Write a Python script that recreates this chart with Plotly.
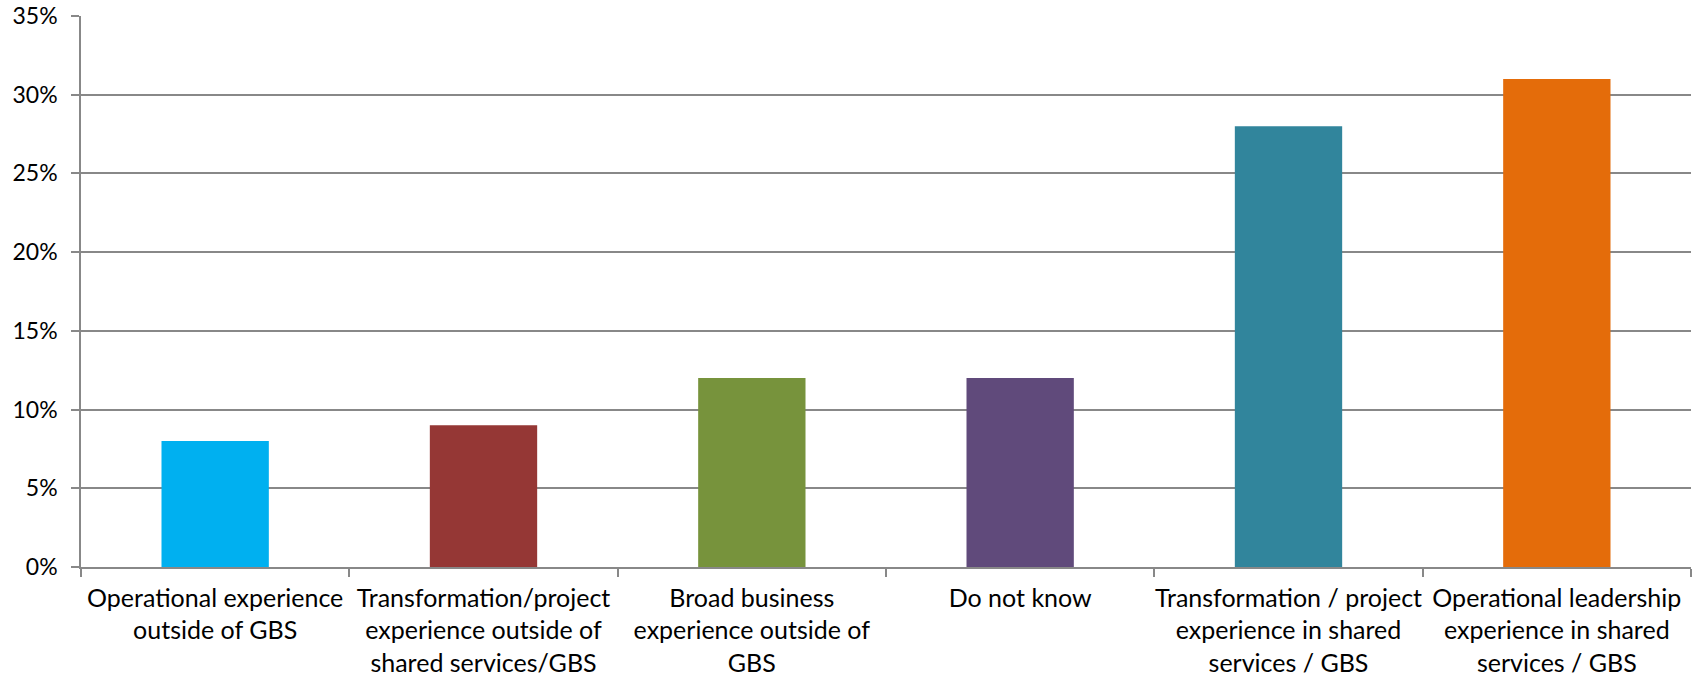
import plotly.graph_objects as go

categories = [
    "Operational experience<br>outside of GBS",
    "Transformation/project<br>experience outside of<br>shared services/GBS",
    "Broad business<br>experience outside of<br>GBS",
    "Do not know",
    "Transformation / project<br>experience in shared<br>services / GBS",
    "Operational leadership<br>experience in shared<br>services / GBS",
]
values = [0.08, 0.09, 0.12, 0.12, 0.28, 0.31]
colors = ["#00B0F0", "#953735", "#77933C", "#604A7B", "#31859C", "#E46C0A"]
y_ticks = [0, 0.05, 0.10, 0.15, 0.20, 0.25, 0.30, 0.35]

fig = go.Figure(go.Bar(x=categories, y=values, marker=dict(color=colors, line=dict(width=0))))

fig.update_layout(
    width=1700, height=680,
    margin=dict(l=81, r=9, t=16, b=113),
    paper_bgcolor="white", plot_bgcolor="white",
    bargap=0.6,
    showlegend=False,
    font=dict(family="Lato, Calibri, sans-serif", size=25, color="#000000"),
)
fig.update_xaxes(
    type="category",
    tickson="boundaries",
    ticks="outside", ticklen=8, tickwidth=1.5, tickcolor="#888888",
    showline=True, linecolor="#888888", linewidth=1.5,
    showgrid=False,
    tickfont=dict(size=25, color="#000000"),
    tickangle=0,
    ticklabelstandoff=8,
    ticklabeloverflow="allow",
    automargin=False,
)
fig.update_yaxes(
    range=[0, 0.35],
    tickvals=y_ticks,
    tickformat=".0%",
    ticks="outside", ticklen=8, tickwidth=1.5, tickcolor="#888888",
    showline=True, linecolor="#888888", linewidth=1.5,
    showgrid=True, gridcolor="#888888", gridwidth=1.5,
    zeroline=False,
    tickfont=dict(size=23, color="#000000"),
    ticklabelstandoff=9,
    ticklabeloverflow="allow",
    automargin=False,
)

fig.write_html("out.html", config={"displayModeBar": False},
               post_script="document.body.style.margin='0';")
